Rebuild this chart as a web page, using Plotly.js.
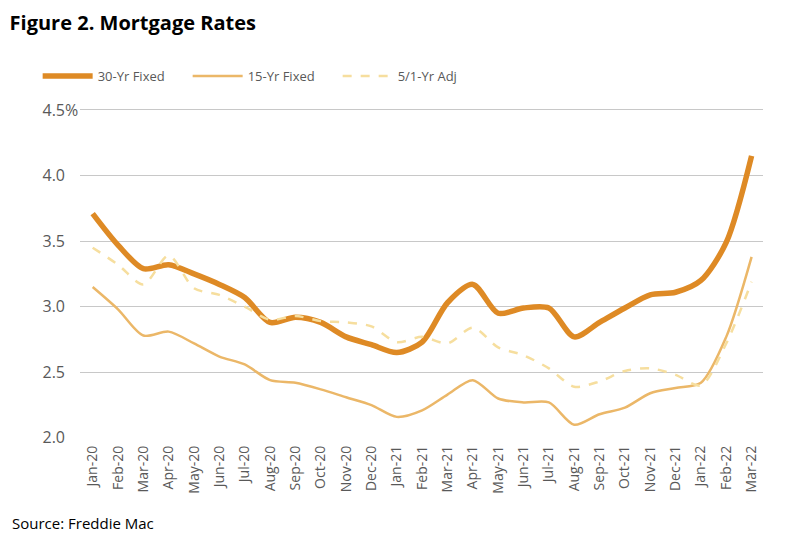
<!DOCTYPE html>
<html><head><meta charset="utf-8">
<script src="https://cdn.plot.ly/plotly-3.0.1.min.js"></script>
<style>html,body{margin:0;padding:0;background:#fff;}#chart{width:800px;height:552px;}</style>
</head><body><div id="chart"></div>
<script>
const months = ["Jan-20","Feb-20","Mar-20","Apr-20","May-20","Jun-20","Jul-20","Aug-20","Sep-20","Oct-20","Nov-20","Dec-20",
"Jan-21","Feb-21","Mar-21","Apr-21","May-21","Jun-21","Jul-21","Aug-21","Sep-21","Oct-21","Nov-21","Dec-21",
"Jan-22","Feb-22","Mar-22"];
const fixed30 = [3.71,3.47,3.29,3.32,3.25,3.17,3.07,2.88,2.92,2.88,2.77,2.71,2.65,2.73,3.03,3.17,2.95,2.99,2.99,2.77,2.88,2.99,3.09,3.11,3.20,3.49,4.15];
const fixed15 = [3.15,2.98,2.78,2.81,2.72,2.62,2.56,2.44,2.42,2.37,2.31,2.25,2.16,2.21,2.33,2.44,2.30,2.27,2.27,2.10,2.18,2.23,2.34,2.38,2.42,2.77,3.38];
const arm51 = [3.45,3.32,3.17,3.39,3.14,3.09,3.00,2.90,2.93,2.89,2.88,2.85,2.73,2.77,2.72,2.84,2.69,2.63,2.53,2.39,2.43,2.51,2.53,2.48,2.40,2.72,3.19];
const yTickVals = [2.0,2.5,3.0,3.5,4.0,4.5];
const yTickText = ["2.0","2.5","3.0","3.5","4.0","4.5"];
const yTopUnit = "%";

const traces = [
  {x: months, y: fixed30, name: "30-Yr Fixed", type: "scatter", mode: "lines",
   line: {color: "#DE8A25", width: 5.5, shape: "spline", smoothing: 0.8}},
  {x: months, y: fixed15, name: "15-Yr Fixed", type: "scatter", mode: "lines",
   line: {color: "#EBB768", width: 2.5, shape: "spline", smoothing: 0.8}},
  {x: months, y: arm51, name: "5/1-Yr Adj", type: "scatter", mode: "lines",
   line: {color: "#F6DE9E", width: 2.5, dash: "dash", shape: "spline", smoothing: 0.8}}
];
const layout = {
  width: 800, height: 552,
  margin: {l: 80, r: 37, t: 106, b: 114},
  paper_bgcolor: "#fff", plot_bgcolor: "#fff",
  font: {family: "Open Sans, sans-serif", color: "#595959"},
  title: {text: "<b>Figure 2. Mortgage Rates</b>", x: 0.012, xanchor: "left", y: 0.958, yanchor: "middle",
          font: {family: "Open Sans, sans-serif", size: 20, color: "#000"}},
  showlegend: true,
  legend: {orientation: "h", x: -0.062, xanchor: "left", y: 1.09, yanchor: "middle",
           font: {size: 13, color: "#595959"}, traceorder: "normal", itemwidth: 50,
           entrywidth: 85, entrywidthmode: "pixels"},
  xaxis: {type: "category", range: [-0.5, 26.45], tickangle: -90, showgrid: false,
          showline: false, zeroline: false, ticks: "", ticklabelstandoff: 4,
          tickfont: {size: 14, color: "#595959"}, fixedrange: true},
  yaxis: {range: [1.999, 4.53], tickvals: yTickVals, ticktext: yTickText, showgrid: true, gridcolor: "#C8C8C8",
          gridwidth: 1, zeroline: false, showline: false, ticks: "", ticklabelstandoff: 14,
          tickfont: {size: 16, color: "#595959"}, fixedrange: true},
  annotations: [
    {text: "Source: Freddie Mac", xref: "paper", yref: "paper", x: -0.103, y: -0.256,
     xanchor: "left", yanchor: "middle", showarrow: false, font: {size: 15, color: "#000"}},
    {text: yTopUnit, xref: "paper", yref: "y", x: -0.0215, y: 4.5, xanchor: "left", yanchor: "middle",
     showarrow: false, xshift: -2, font: {size: 16, color: "#595959"}}
  ]
};
Plotly.newPlot("chart", traces, layout, {displayModeBar: false, staticPlot: true});
</script></body></html>
